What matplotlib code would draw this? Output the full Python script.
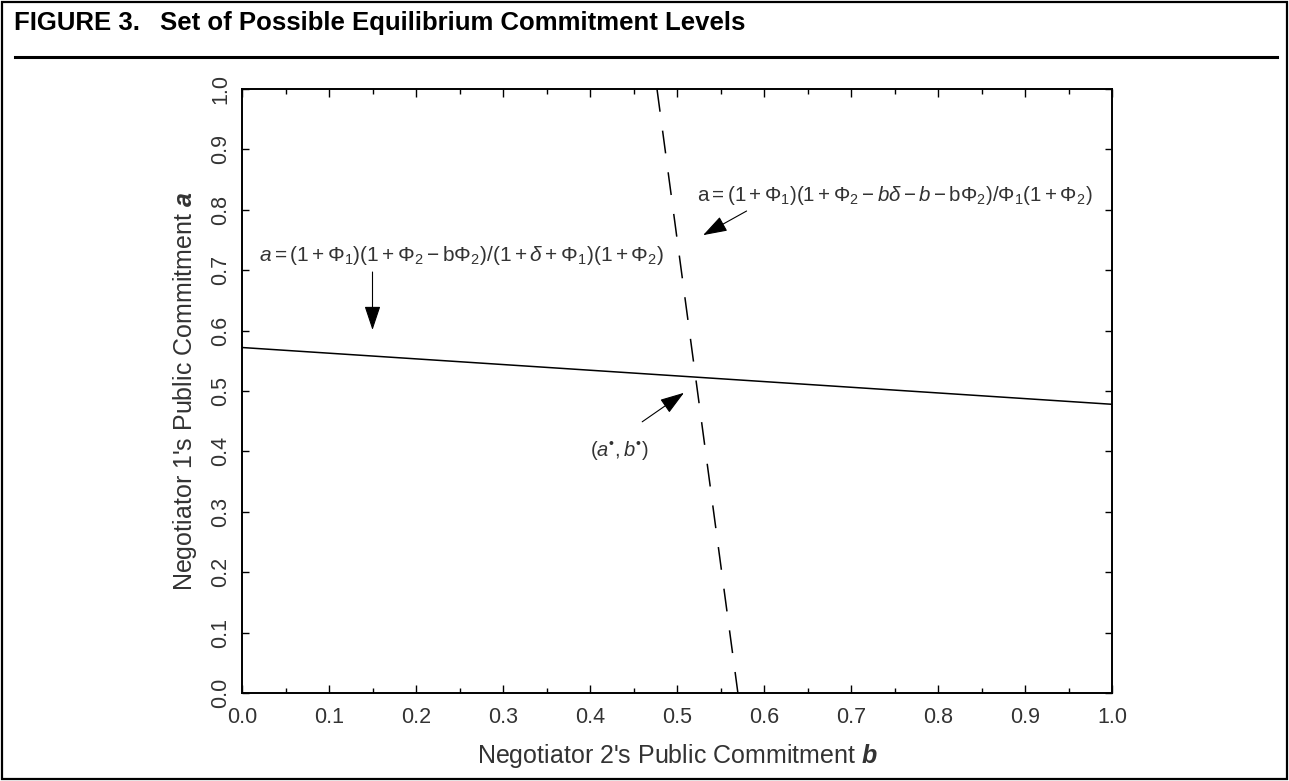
import matplotlib
matplotlib.use("Agg")
import matplotlib.pyplot as plt
from matplotlib.ticker import MultipleLocator
from matplotlib.patches import Rectangle
from matplotlib.lines import Line2D

# curves
b_solid = [0.0, 1.0]
a_solid = [0.572, 0.478]
b_dashed = [0.477, 0.570]
a_dashed = [1.0, 0.0]
ticks = [0.0, 0.1, 0.2, 0.3, 0.4, 0.5, 0.6, 0.7, 0.8, 0.9, 1.0]
tick_labels = ["0.0", "0.1", "0.2", "0.3", "0.4", "0.5", "0.6", "0.7", "0.8", "0.9", "1.0"]

plt.rcParams["font.family"] = "Liberation Sans"
plt.rcParams["mathtext.fontset"] = "custom"
plt.rcParams["mathtext.rm"] = "Liberation Sans"
plt.rcParams["mathtext.it"] = "Liberation Sans:italic"
plt.rcParams["mathtext.bf"] = "Liberation Sans:italic:bold"

txt = "#333333"
fig = plt.figure(figsize=(12.89, 7.81), dpi=100)
W, H = 1289.0, 781.0

# outer frame and title rule
fig.add_artist(Rectangle((2 / W, 2 / H), 1285 / W, 777 / H, transform=fig.transFigure,
                         fill=False, edgecolor="black", linewidth=1.6))
fig.add_artist(Line2D([15 / W, 1277 / W], [1 - 57 / H, 1 - 57 / H], transform=fig.transFigure,
                      color="black", linewidth=2.2))
fig.text(14 / W, 1 - 23 / H, "FIGURE 3.", fontsize=18.5, fontweight="bold", va="center", ha="left")
fig.text(160 / W, 1 - 23 / H, "Set of Possible Equilibrium Commitment Levels", fontsize=18.5,
         fontweight="bold", va="center", ha="left")

ax = fig.add_axes([242 / W, 1 - 693 / H, 870 / W, 604 / H])
ax.plot(b_solid, a_solid, color="black", linewidth=1.1)
ax.plot(b_dashed, a_dashed, color="black", linewidth=1.1, dashes=(15, 12.5))
ax.set_xlim(0, 1)
ax.set_ylim(0, 1)

ax.set_xticks(ticks)
ax.set_xticklabels(tick_labels)
ax.set_yticks(ticks)
ax.set_yticklabels(tick_labels, rotation=90, va="center")
ax.xaxis.set_minor_locator(MultipleLocator(0.05))
ax.tick_params(axis="both", which="both", direction="in", top=True, right=True,
               labelsize=15.5, labelcolor=txt, width=1.0)
ax.tick_params(axis="x", which="major", length=6, pad=10)
ax.tick_params(axis="x", which="minor", length=3.5)
ax.tick_params(axis="y", which="major", length=5, pad=8)
for s in ax.spines.values():
    s.set_linewidth(1.4)

ax.set_xlabel(r"Negotiator 2's Public Commitment $\mathbf{b}$", fontsize=18, color=txt, labelpad=10)
ax.set_ylabel(r"Negotiator 1's Public Commitment $\mathbf{a}$", fontsize=18, color=txt, labelpad=8)

# annotations
arrow = dict(arrowstyle="-|>,head_length=1.5,head_width=0.5", color="black", lw=0.8,
             shrinkA=0, shrinkB=0, mutation_scale=10)
ax.text(0.523, 0.8245,
        r"$\mathrm{a}=(1+\Phi_1)(1+\Phi_2-b\delta-b-\mathrm{b}\Phi_2)/\Phi_1(1+\Phi_2)$",
        fontsize=14.8, color=txt, va="center", ha="left")
ax.annotate("", xy=(0.530, 0.758), xytext=(0.580, 0.798), arrowprops=arrow)

ax.text(0.02, 0.725,
        r"$a=(1+\Phi_1)(1+\Phi_2-\mathrm{b}\Phi_2)/(1+\delta+\Phi_1)(1+\Phi_2)$",
        fontsize=15, color=txt, va="center", ha="left")
ax.annotate("", xy=(0.15, 0.601), xytext=(0.15, 0.697), arrowprops=arrow)

ax.text(0.40, 0.402, r"$(a^{•},b^{•})$", fontsize=14.5, color=txt, va="center", ha="left")
ax.annotate("", xy=(0.508, 0.497), xytext=(0.46, 0.449), arrowprops=arrow)

fig.savefig("out.png", dpi=100)
